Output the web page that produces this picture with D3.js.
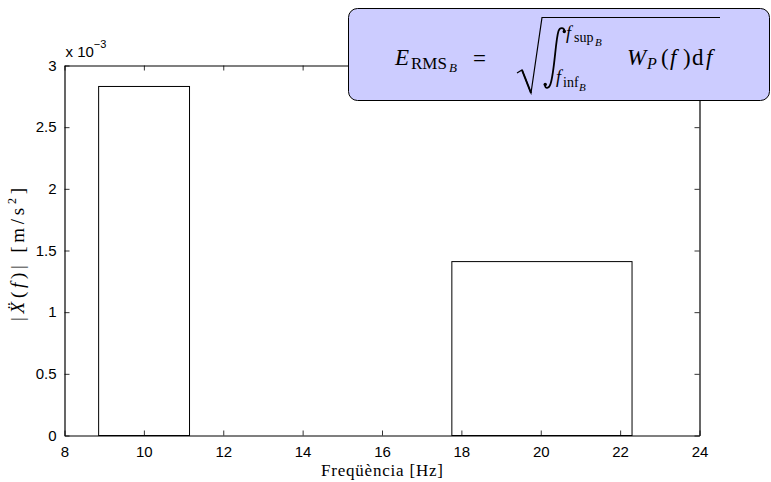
<!DOCTYPE html>
<html>
<head>
<meta charset="utf-8">
<script src="https://cdn.jsdelivr.net/npm/d3@7/dist/d3.min.js"></script>
<style>
  html, body { margin: 0; padding: 0; background: #fff; }
  svg { display: block; }
</style>
</head>
<body>
<svg id="chart" width="771" height="482"></svg>
<script>
// Third-octave band edges (Hz) and RMS acceleration per band (m/s^2)
const bandLow  = [8.86, 17.76];
const bandHigh = [11.15, 22.3];
const bandRms  = [2.83e-3, 1.41e-3];

const xTicks = [8, 10, 12, 14, 16, 18, 20, 22, 24];
const yTicks = [0, 0.5e-3, 1e-3, 1.5e-3, 2e-3, 2.5e-3, 3e-3];
const yTickLabels = ["0", "0.5", "1", "1.5", "2", "2.5", "3"];

const plot = { left: 64.5, right: 699.5, top: 65.5, bottom: 435.5 };

const svg = d3.select("#chart");

const x = d3.scaleLinear().domain([8, 24]).range([plot.left, plot.right]);
const y = d3.scaleLinear().domain([0, 3e-3]).range([plot.bottom, plot.top]);

const sans = "'Liberation Sans', Arial, Helvetica, sans-serif";
const serif = "'Liberation Serif', 'Times New Roman', serif";

// Bars
svg.append("g")
  .selectAll("rect")
  .data(bandRms)
  .join("rect")
  .attr("x", (d, i) => x(bandLow[i]))
  .attr("width", (d, i) => x(bandHigh[i]) - x(bandLow[i]))
  .attr("y", d => y(d))
  .attr("height", d => y(0) - y(d))
  .attr("fill", "#fff")
  .attr("stroke", "#000")
  .attr("stroke-width", 1);

// Axes (inward ticks on all four sides, labels on bottom and left)
const tickLen = 5;
const bottomAxis = d3.axisBottom(x).tickValues(xTicks).tickSizeInner(-tickLen).tickSizeOuter(0).tickPadding(11).tickFormat(d3.format("d"));
const topAxis = d3.axisTop(x).tickValues(xTicks).tickSizeInner(-tickLen).tickSizeOuter(0).tickFormat("");
const leftAxis = d3.axisLeft(y).tickValues(yTicks).tickSizeInner(-tickLen).tickSizeOuter(0).tickPadding(8)
  .tickFormat((d, i) => yTickLabels[i]);
const rightAxis = d3.axisRight(y).tickValues(yTicks).tickSizeInner(-tickLen).tickSizeOuter(0).tickFormat("");

function styleAxis(g) {
  g.selectAll(".domain").attr("stroke", "#000").attr("stroke-width", 1.2);
  g.selectAll(".tick line").attr("stroke", "#000").attr("stroke-width", 0.8);
  g.selectAll(".tick text").attr("fill", "#000").style("font-family", sans).style("font-size", "15px");
}

svg.append("g").attr("transform", `translate(0,${plot.bottom})`).call(bottomAxis).call(styleAxis);
svg.append("g").attr("transform", `translate(0,${plot.top})`).call(topAxis).call(styleAxis);
svg.append("g").attr("transform", `translate(${plot.left},0)`).call(leftAxis).call(styleAxis);
svg.append("g").attr("transform", `translate(${plot.right},0)`).call(rightAxis).call(styleAxis);

// Exponent multiplier
const mult = svg.append("text")
  .attr("x", plot.left + 1)
  .attr("y", 57)
  .style("font-family", sans)
  .style("font-size", "15px")
  .attr("fill", "#000");
mult.append("tspan").text("x 10");
mult.append("tspan").attr("dy", -9).style("font-size", "11px").text("\u22123");

// Axis titles
svg.append("text")
  .attr("x", (plot.left + plot.right) / 2 - 61)
  .attr("y", 476)
  .attr("textLength", 122)
  .attr("lengthAdjust", "spacing")
  .style("font-family", serif)
  .style("font-size", "17px")
  .attr("fill", "#000")
  .text("Freqüència [Hz]");

const ylab = svg.append("text")
  .attr("transform", "translate(24,321) rotate(-90)")
  .attr("textLength", 133)
  .attr("lengthAdjust", "spacing")
  .style("font-family", serif)
  .style("font-size", "19px")
  .attr("fill", "#000");
ylab.append("tspan").text("|");
ylab.append("tspan").style("font-style", "italic").text("X\u0308");
ylab.append("tspan").text("(");
ylab.append("tspan").style("font-style", "italic").text("f");
ylab.append("tspan").text(")| [m/s");
ylab.append("tspan").attr("dy", -8).style("font-size", "12px").text("2");
ylab.append("tspan").attr("dy", 8).text("]");

// Formula annotation box
const box = svg.append("g");
box.append("rect")
  .attr("x", 348.5).attr("y", 8.5)
  .attr("width", 421).attr("height", 92)
  .attr("rx", 9).attr("ry", 9)
  .attr("fill", "#ccccff")
  .attr("stroke", "#000")
  .attr("stroke-width", 1);

function txt(xp, yp, size, content, italic) {
  return box.append("text")
    .attr("x", xp).attr("y", yp)
    .style("font-family", serif)
    .style("font-size", size + "px")
    .style("font-style", italic ? "italic" : "normal")
    .attr("fill", "#000")
    .text(content);
}

// E_{RMS_B} =
txt(395, 65, 23, "E", true);
txt(411, 69, 17, "RMS", false);
txt(449, 72, 13, "B", true);
txt(473, 66, 23, "=", false);

// square root sign
box.append("path")
  .attr("d", "M517,73 L522,70 L531,93 L542,17.5 L720,17.5")
  .attr("fill", "none")
  .attr("stroke", "#000")
  .attr("stroke-width", 1.2)
  .attr("stroke-linejoin", "miter");
box.append("path")
  .attr("d", "M522,70 L531,93")
  .attr("stroke", "#000")
  .attr("stroke-width", 2);

// integral sign
box.append("path")
  .attr("d", "M564.5,31 C564,27.5 560,27 558.5,31 C555.5,40 554.5,72 550.5,84 C549,89 545,89 545,85")
  .attr("fill", "none")
  .attr("stroke", "#000")
  .attr("stroke-width", 1.8)
  .attr("stroke-linecap", "round");
box.append("circle").attr("cx", 564.3).attr("cy", 31.5).attr("r", 1.7).attr("fill", "#000");
box.append("circle").attr("cx", 545.2).attr("cy", 84.5).attr("r", 1.7).attr("fill", "#000");

// limits
txt(566, 39, 18, "f", true);
txt(574, 42, 14, "sup", false);
txt(595, 46, 11, "B", true);
txt(556, 83, 18, "f", true);
txt(563, 87, 14, "inf", false);
txt(579, 91, 11, "B", true);

// integrand W_P(f) df
txt(627, 65, 23, "W", true);
txt(647, 69, 16, "P", true);
txt(661, 65, 23, "(", false);
txt(670, 65, 23, "f", true);
txt(683, 65, 23, ")", false);
txt(692, 65, 23, "d", false);
txt(706, 65, 23, "f", true);
</script>
</body>
</html>
